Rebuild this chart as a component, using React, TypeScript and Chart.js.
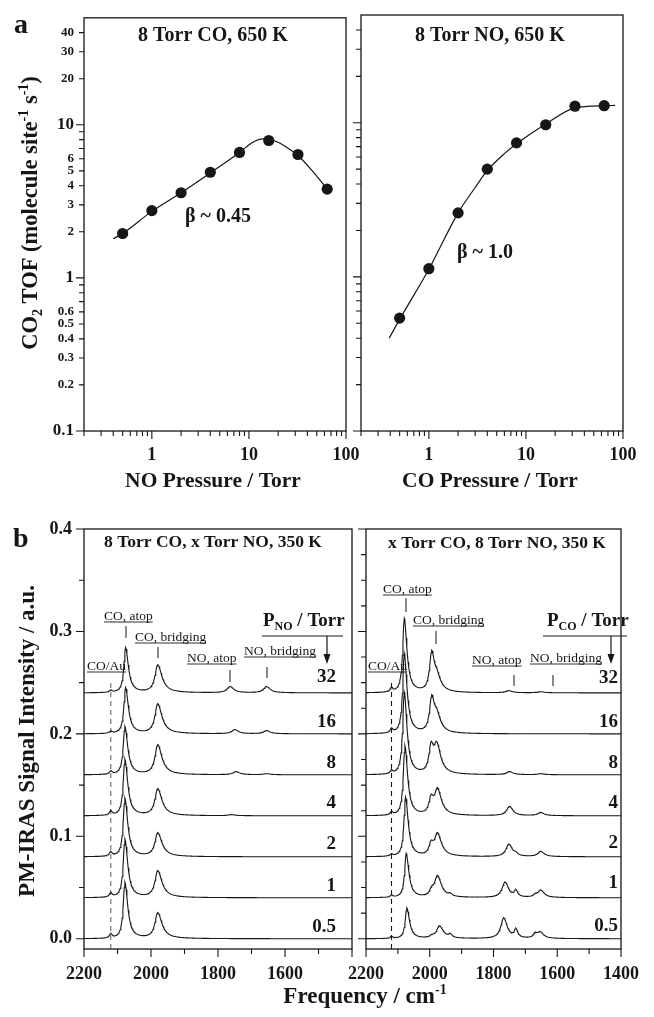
import React, { useEffect, useRef } from 'react';
import { Chart, registerables } from 'chart.js';

Chart.register(...registerables);

const W = 654;
const H = 1017;
const INK = '#161616';
const SERIF = '"Liberation Serif", "Times New Roman", Times, serif';

// ===================== Panel a : CO2 TOF vs partial pressure =====================
const NO_PRESSURE_TORR = [0.5, 1, 2, 4, 8, 16, 32, 64];
const TOF_VS_NO = [1.95, 2.75, 3.6, 4.9, 6.6, 7.9, 6.4, 3.8];
const FIT_NO_X = [0.4, 0.5, 1, 2, 4, 8, 11, 14, 18, 24, 32, 45, 64];
const FIT_NO_Y = [1.8, 1.95, 2.72, 3.6, 4.85, 6.6, 7.7, 8.1, 7.9, 7.2, 6.3, 5.0, 3.8];

const CO_PRESSURE_TORR = [0.5, 1, 2, 4, 8, 16, 32, 64];
const TOF_VS_CO = [0.54, 1.13, 2.6, 5.0, 7.4, 9.7, 12.8, 12.9];
const FIT_CO_X = [0.39, 0.5, 1, 2, 3, 4, 6, 8, 16, 32, 64, 83];
const FIT_CO_Y = [0.4, 0.53, 1.12, 2.6, 3.8, 4.9, 6.3, 7.3, 9.8, 12.5, 12.9, 12.95];

const TOF_TICKS = [0.1, 0.2, 0.3, 0.4, 0.5, 0.6, 0.7, 0.8, 0.9, 1, 2, 3, 4, 5, 6, 7, 8, 9, 10, 20, 30, 40];
const TOF_TICK_LABELS = ['0.1', '0.2', '0.3', '0.4', '0.5', '0.6', '', '', '', '1', '2', '3', '4', '5', '6', '', '', '', '10', '20', '30', '40'];
const PRESSURE_TICKS = [0.2, 0.3, 0.4, 0.5, 0.6, 0.7, 0.8, 0.9, 1, 2, 3, 4, 5, 6, 7, 8, 9, 10, 20, 30, 40, 50, 60, 70, 80, 90, 100];
const PRESSURE_TICK_LABELS = ['', '', '', '', '', '', '', '', '1', '', '', '', '', '', '', '', '', '10', '', '', '', '', '', '', '', '', '100'];

// ===================== Panel b : PM-IRAS spectra =====================
const TRACE_LABELS = ['0.5', '1', '2', '4', '8', '16', '32'];
const TRACE_OFFSETS = [0, 0.04, 0.08, 0.12, 0.16, 0.2, 0.24];
const FREQ_MAJOR = [2200, 2000, 1800, 1600, 1400];
const FREQ_MINOR = [2100, 1900, 1700, 1500];
const FREQ_LABELS_LEFT = ['2200', '2000', '1800', '1600', ''];
const FREQ_LABELS_RIGHT = ['2200', '2000', '1800', '1600', '1400'];
const SIGNAL_MAJOR = [0, 0.1, 0.2, 0.3, 0.4];
const SIGNAL_LABELS = ['0.0', '0.1', '0.2', '0.3', '0.4'];
const SIGNAL_MINOR_LEFT = [0.05, 0.15, 0.25, 0.35];
const SIGNAL_MINOR_RIGHT = [0.025, 0.05, 0.075, 0.125, 0.15, 0.175, 0.225, 0.25, 0.275, 0.325, 0.35, 0.375];
const CO_AU_FREQ = 2120;
const CO_AU_LINE_TOP = 0.253;

// Peak table, left spectra (8 Torr CO, x Torr NO), traces 0.5 ... 32 Torr
const L_COAU_H = [0.004, 0.004, 0.004, 0.004, 0.003, 0.002, 0.002];
const L_ATOP_POS = [2078, 2078, 2078, 2078, 2078, 2076, 2076];
const L_ATOP_H = [0.055, 0.057, 0.057, 0.055, 0.047, 0.045, 0.044];
const L_BRIDGE_POS = [1980, 1980, 1980, 1980, 1980, 1980, 1980];
const L_BRIDGE_H = [0.025, 0.026, 0.023, 0.026, 0.029, 0.029, 0.027];
const L_NOATOP_POS = [1760, 1760, 1760, 1760, 1746, 1750, 1764];
const L_NOATOP_H = [0, 0, 0, 0.001, 0.003, 0.004, 0.006];
const L_NOBR_POS = [1655, 1655, 1655, 1655, 1655, 1655, 1655];
const L_NOBR_H = [0, 0, 0, 0, 0.001, 0.003, 0.006];

// Peak table, right spectra (x Torr CO, 8 Torr NO), traces 0.5 ... 32 Torr
const R_COAU_H = [0.002, 0.002, 0.002, 0.003, 0.003, 0.004, 0.004];
const R_ATOP_POS = [2072, 2074, 2076, 2078, 2080, 2080, 2080];
const R_ATOP_H = [0.03, 0.043, 0.058, 0.068, 0.08, 0.078, 0.072];
const R_BRA_POS = [1994, 1994, 1996, 1996, 1996, 1994, 1994];
const R_BRA_H = [0.002, 0.006, 0.011, 0.015, 0.025, 0.033, 0.037];
const R_BRB_POS = [1970, 1976, 1976, 1976, 1978, 1978, 1978];
const R_BRB_H = [0.012, 0.02, 0.021, 0.024, 0.026, 0.015, 0.013];
const R_LOW_POS = [1936, 1936, 1936, 1936, 1936, 1936, 1936];
const R_LOW_H = [0.003, 0.002, 0, 0, 0, 0, 0];
const R_NOATOP_POS = [1768, 1764, 1752, 1750, 1750, 1750, 1752];
const R_NOATOP_H = [0.02, 0.015, 0.012, 0.009, 0.003, 0, 0.002];
const R_NOSH_POS = [1730, 1730, 1730, 1730, 1730, 1730, 1730];
const R_NOSH_H = [0.008, 0.006, 0.002, 0, 0, 0, 0];
const R_NOBR_POS = [1654, 1652, 1652, 1652, 1652, 1652, 1652];
const R_NOBR_H = [0.006, 0.007, 0.005, 0.003, 0.001, 0, 0.001];
const R_NOBR2_POS = [1670, 1670, 1670, 1670, 1670, 1670, 1670];
const R_NOBR2_H = [0.004, 0.002, 0, 0, 0, 0, 0];

// half widths [high-frequency side, low-frequency side] in cm-1
const HW_COAU: [number, number] = [5, 5];
const HW_ATOP: [number, number] = [6, 10];
const HW_BRIDGE: [number, number] = [10, 15];
const HW_BRA: [number, number] = [8, 10];
const HW_NO: [number, number] = [11, 13];
const HW_NARROW: [number, number] = [6, 7];

type Comp = { pos: number[]; h: number[]; hw: [number, number] };
const CO_AU_POS = TRACE_LABELS.map(() => CO_AU_FREQ);

const LEFT_COMPONENTS: Comp[] = [
  { pos: CO_AU_POS, h: L_COAU_H, hw: HW_COAU },
  { pos: L_ATOP_POS, h: L_ATOP_H, hw: HW_ATOP },
  { pos: L_BRIDGE_POS, h: L_BRIDGE_H, hw: HW_BRIDGE },
  { pos: L_NOATOP_POS, h: L_NOATOP_H, hw: HW_NO },
  { pos: L_NOBR_POS, h: L_NOBR_H, hw: HW_NO },
];
const RIGHT_COMPONENTS: Comp[] = [
  { pos: CO_AU_POS, h: R_COAU_H, hw: HW_COAU },
  { pos: R_ATOP_POS, h: R_ATOP_H, hw: HW_ATOP },
  { pos: R_BRA_POS, h: R_BRA_H, hw: HW_BRA },
  { pos: R_BRB_POS, h: R_BRB_H, hw: HW_BRIDGE },
  { pos: R_LOW_POS, h: R_LOW_H, hw: HW_NARROW },
  { pos: R_NOATOP_POS, h: R_NOATOP_H, hw: HW_NO },
  { pos: R_NOSH_POS, h: R_NOSH_H, hw: HW_NARROW },
  { pos: R_NOBR_POS, h: R_NOBR_H, hw: HW_NO },
  { pos: R_NOBR2_POS, h: R_NOBR2_H, hw: HW_NARROW },
];

const FREQ_GRID: number[] = [];
for (let f = 2200; f >= 1400; f -= 2) FREQ_GRID.push(f);

function peak(f: number, c: number, h: number, hw: [number, number]) {
  if (!h) return 0;
  const w = f >= c ? hw[0] : hw[1];
  const d = f - c;
  return (h * w * w) / (d * d + w * w);
}

function spectrum(comps: Comp[], i: number) {
  return FREQ_GRID.map((f) => ({
    x: f,
    y: TRACE_OFFSETS[i] + comps.reduce((s, c) => s + peak(f, c.pos[i], c.h[i], c.hw), 0),
  }));
}

// ===================== drawing helpers =====================
type Seg = [string, number, number?, boolean?];

function drawRich(ctx: CanvasRenderingContext2D, segs: Seg[], x: number, y: number, align: 'left' | 'center' | 'right' = 'left', bold = true) {
  const fontOf = (s: Seg) => `${(s[3] ?? bold) ? 'bold ' : ''}${s[1]}px ${SERIF}`;
  let total = 0;
  const ws = segs.map((s) => {
    ctx.font = fontOf(s);
    const w = ctx.measureText(s[0]).width;
    total += w;
    return w;
  });
  let cx = align === 'left' ? x : align === 'center' ? x - total / 2 : x - total;
  const start = cx;
  ctx.textAlign = 'left';
  ctx.textBaseline = 'alphabetic';
  ctx.fillStyle = INK;
  segs.forEach((s, i) => {
    ctx.font = fontOf(s);
    ctx.fillText(s[0], cx, y + (s[2] ?? 0));
    cx += ws[i];
  });
  return { start, width: total };
}

function tag(ctx: CanvasRenderingContext2D, text: string, x: number, y: number) {
  const r = drawRich(ctx, [[text, 13.5]], x, y, 'left', false);
  ctx.strokeStyle = INK;
  ctx.lineWidth = 0.9;
  ctx.beginPath();
  ctx.moveTo(r.start, y + 2);
  ctx.lineTo(r.start + r.width, y + 2);
  ctx.stroke();
}

function vline(ctx: CanvasRenderingContext2D, x: number, y1: number, y2: number, lw = 1) {
  ctx.strokeStyle = INK;
  ctx.lineWidth = lw;
  ctx.beginPath();
  ctx.moveTo(x, y1);
  ctx.lineTo(x, y2);
  ctx.stroke();
}

function hline(ctx: CanvasRenderingContext2D, x1: number, x2: number, y: number, lw = 1.2) {
  ctx.strokeStyle = INK;
  ctx.lineWidth = lw;
  ctx.beginPath();
  ctx.moveTo(x1, y);
  ctx.lineTo(x2, y);
  ctx.stroke();
}

function arrow(ctx: CanvasRenderingContext2D, x: number, y1: number, y2: number) {
  vline(ctx, x, y1, y2 - 6, 1.2);
  ctx.fillStyle = INK;
  ctx.beginPath();
  ctx.moveTo(x, y2);
  ctx.lineTo(x - 3.5, y2 - 10);
  ctx.lineTo(x + 3.5, y2 - 10);
  ctx.closePath();
  ctx.fill();
}

function rotated(ctx: CanvasRenderingContext2D, x: number, y: number, segs: Seg[]) {
  ctx.save();
  ctx.translate(x, y);
  ctx.rotate(-Math.PI / 2);
  drawRich(ctx, segs, 0, 0, 'center');
  ctx.restore();
}

type TickSpec = { xMajor: number[]; xMinor: number[]; yMajor: number[]; yMinor: number[] };

function framePlugin(spec: TickSpec, overlay: (ctx: CanvasRenderingContext2D) => void) {
  return {
    id: 'frameAndText',
    afterDraw(chart: any) {
      const { ctx, chartArea: a, scales } = chart;
      ctx.save();
      ctx.strokeStyle = INK;
      ctx.lineWidth = 1.3;
      ctx.strokeRect(a.left, a.top, a.right - a.left, a.bottom - a.top);
      ctx.lineWidth = 1.1;
      ctx.beginPath();
      const tx = (v: number, len: number) => {
        const p = scales.x.getPixelForValue(v);
        ctx.moveTo(p, a.bottom);
        ctx.lineTo(p, a.bottom + len);
      };
      const ty = (v: number, len: number) => {
        const p = scales.y.getPixelForValue(v);
        ctx.moveTo(a.left, p);
        ctx.lineTo(a.left - len, p);
      };
      spec.xMajor.forEach((v) => tx(v, 8));
      spec.xMinor.forEach((v) => tx(v, 5));
      spec.yMajor.forEach((v) => ty(v, 8));
      spec.yMinor.forEach((v) => ty(v, 5));
      ctx.stroke();
      ctx.restore();
      ctx.save();
      overlay(ctx);
      ctx.restore();
    },
  };
}

const isDecade = (v: number) => Math.abs(Math.log10(v) - Math.round(Math.log10(v))) < 1e-6;
const labelFor = (ticks: number[], labels: string[]) => (v: any) => {
  const i = ticks.findIndex((t) => Math.abs(t - Number(v)) < 1e-7);
  return i >= 0 ? labels[i] : '';
};
const setTicks = (vals: number[]) => (scale: any) => {
  scale.ticks = vals.map((v) => ({ value: v }));
};

type Box = { left: number; top: number; right: number; bottom: number };
const Y_AXIS_W = 70;
const X_AXIS_H = 40;
const padFor = (b: Box) => ({ left: b.left - Y_AXIS_W, top: b.top, right: W - b.right, bottom: H - b.bottom - X_AXIS_H });

const BOX_TL: Box = { left: 84, top: 15, right: 346, bottom: 431 };
const BOX_TR: Box = { left: 361, top: 15, right: 623, bottom: 431 };
const BOX_BL: Box = { left: 84, top: 529, right: 352, bottom: 949 };
const BOX_BR: Box = { left: 366, top: 529, right: 633, bottom: 949 };

function baseOptions(box: Box) {
  return {
    responsive: false,
    maintainAspectRatio: false,
    animation: false as const,
    devicePixelRatio: 1,
    layout: { padding: padFor(box) },
    plugins: { legend: { display: false }, tooltip: { enabled: false } },
    events: [] as any[],
  };
}

function rateConfig(box: Box, px: number[], py: number[], fx: number[], fy: number[], showYLabels: boolean, overlay: (c: CanvasRenderingContext2D) => void) {
  return {
    type: 'line',
    data: {
      datasets: [
        {
          data: px.map((x, i) => ({ x, y: py[i] })),
          showLine: false,
          pointRadius: 5.6,
          pointBackgroundColor: INK,
          pointBorderWidth: 0,
        },
        {
          data: fx.map((x, i) => ({ x, y: fy[i] })),
          borderColor: INK,
          borderWidth: 1.2,
          pointRadius: 0,
          cubicInterpolationMode: 'monotone',
          fill: false,
        },
      ],
    },
    options: {
      ...baseOptions(box),
      scales: {
        x: {
          type: 'logarithmic',
          min: 0.2,
          max: 100,
          bounds: 'data',
          grid: { display: false, drawTicks: false },
          border: { display: false },
          afterBuildTicks: setTicks(PRESSURE_TICKS),
          afterFit: (s: any) => { s.height = X_AXIS_H; },
          ticks: {
            autoSkip: false, maxRotation: 0, minRotation: 0, padding: 14, color: INK,
            font: { family: SERIF, size: 18, weight: 'bold' },
            callback: labelFor(PRESSURE_TICKS, PRESSURE_TICK_LABELS),
          },
        },
        y: {
          type: 'logarithmic',
          min: 0.1,
          max: 50,
          bounds: 'data',
          grid: { display: false, drawTicks: false },
          border: { display: false },
          afterBuildTicks: setTicks(TOF_TICKS),
          afterFit: (s: any) => { s.width = Y_AXIS_W; },
          ticks: {
            display: showYLabels,
            autoSkip: false, padding: 10, color: INK,
            font: (c: any) => ({ family: SERIF, weight: 'bold', size: isDecade(c.tick ? c.tick.value : 1) ? 17 : 13 }),
            callback: labelFor(TOF_TICKS, TOF_TICK_LABELS),
          },
        },
      },
    },
    plugins: [
      framePlugin(
        {
          xMajor: [1, 10, 100],
          xMinor: PRESSURE_TICKS.filter((v) => !isDecade(v)),
          yMajor: [0.1, 1, 10],
          yMinor: TOF_TICKS.filter((v) => !isDecade(v)),
        },
        overlay,
      ),
    ],
  };
}

function spectraConfig(box: Box, comps: Comp[], freqLabels: string[], yMinor: number[], showYLabels: boolean, dashColor: string, overlay: (c: CanvasRenderingContext2D) => void) {
  const traces = TRACE_LABELS.map((_, i) => ({
    data: spectrum(comps, i),
    borderColor: INK,
    borderWidth: 1.1,
    pointRadius: 0,
    tension: 0,
    fill: false,
  }));
  return {
    type: 'line',
    data: {
      datasets: [
        ...traces,
        {
          data: [{ x: CO_AU_FREQ, y: -0.01 }, { x: CO_AU_FREQ, y: CO_AU_LINE_TOP }],
          borderColor: dashColor,
          borderWidth: 1.1,
          borderDash: [5, 4],
          pointRadius: 0,
          fill: false,
        },
      ],
    },
    options: {
      ...baseOptions(box),
      scales: {
        x: {
          type: 'linear',
          min: 1400,
          max: 2200,
          reverse: true,
          bounds: 'data',
          grid: { display: false, drawTicks: false },
          border: { display: false },
          afterBuildTicks: setTicks(FREQ_MAJOR),
          afterFit: (s: any) => { s.height = X_AXIS_H; },
          ticks: {
            autoSkip: false, maxRotation: 0, minRotation: 0, padding: 15, color: INK,
            font: { family: SERIF, size: 18, weight: 'bold' },
            callback: labelFor(FREQ_MAJOR, freqLabels),
          },
        },
        y: {
          type: 'linear',
          min: -0.01,
          max: 0.4,
          bounds: 'data',
          grid: { display: false, drawTicks: false },
          border: { display: false },
          afterBuildTicks: setTicks(SIGNAL_MAJOR),
          afterFit: (s: any) => { s.width = Y_AXIS_W; },
          ticks: {
            display: showYLabels,
            autoSkip: false, padding: 12, color: INK,
            font: { family: SERIF, size: 18, weight: 'bold' },
            callback: labelFor(SIGNAL_MAJOR, SIGNAL_LABELS),
          },
        },
      },
    },
    plugins: [
      framePlugin({ xMajor: FREQ_MAJOR, xMinor: FREQ_MINOR, yMajor: SIGNAL_MAJOR, yMinor }, overlay),
    ],
  };
}

// ===================== text overlays =====================
function overlayTL(ctx: CanvasRenderingContext2D) {
  drawRich(ctx, [['a', 28]], 14, 33);
  rotated(ctx, 37, 213, [
    ['CO', 22.5], ['2', 14, 5], [' TOF (molecule site', 22.5], ['-1', 14, -9], [' s', 22.5], ['-1', 14, -9], [')', 22.5],
  ]);
  drawRich(ctx, [['8 Torr CO, 650 K', 20]], 213, 41, 'center');
  drawRich(ctx, [['β ~ 0.45', 20]], 218, 222, 'center');
  drawRich(ctx, [['NO Pressure / Torr', 21.5]], 213, 487, 'center');
}

function overlayTR(ctx: CanvasRenderingContext2D) {
  drawRich(ctx, [['8 Torr NO, 650 K', 20]], 490, 41, 'center');
  drawRich(ctx, [['β ~ 1.0', 20]], 485, 258, 'center');
  drawRich(ctx, [['CO Pressure / Torr', 21.5]], 490, 487, 'center');
}

const LEFT_LABEL_BASELINES = [932, 891, 849, 808, 768, 727, 682];
const RIGHT_LABEL_BASELINES = [931, 888, 848, 808, 768, 727, 683];

function overlayBL(ctx: CanvasRenderingContext2D) {
  drawRich(ctx, [['b', 28]], 13, 547);
  rotated(ctx, 34, 741, [['PM-IRAS Signal Intensity / a.u.', 23]]);
  drawRich(ctx, [['Frequency / cm', 23], ['-1', 14, -9]], 365, 1003, 'center');
  drawRich(ctx, [['8 Torr CO, x Torr NO, 350 K', 17.5]], 213, 547, 'center');
  tag(ctx, 'CO/Au', 87, 670);
  tag(ctx, 'CO, atop', 104, 620);
  tag(ctx, 'CO, bridging', 135, 641);
  tag(ctx, 'NO, atop', 187, 662);
  tag(ctx, 'NO, bridging', 244, 655);
  vline(ctx, 126, 626, 638);
  vline(ctx, 158, 647, 658);
  vline(ctx, 230, 670, 682);
  vline(ctx, 267, 667, 678);
  drawRich(ctx, [['P', 19], ['NO', 12, 4], [' / Torr', 19]], 263, 626);
  hline(ctx, 262, 343, 636);
  arrow(ctx, 327, 636, 664);
  TRACE_LABELS.forEach((t, i) => drawRich(ctx, [[t, 19]], 336, LEFT_LABEL_BASELINES[i], 'right'));
}

function overlayBR(ctx: CanvasRenderingContext2D) {
  drawRich(ctx, [['x Torr CO, 8 Torr NO, 350 K', 17.5]], 497, 548, 'center');
  tag(ctx, 'CO/Au', 368, 670);
  tag(ctx, 'CO, atop', 383, 593);
  tag(ctx, 'CO, bridging', 413, 624);
  tag(ctx, 'NO, atop', 472, 664);
  tag(ctx, 'NO, bridging', 530, 662);
  vline(ctx, 406, 598, 612);
  vline(ctx, 436, 631, 644);
  vline(ctx, 514, 675, 686);
  vline(ctx, 553, 675, 686);
  drawRich(ctx, [['P', 19], ['CO', 12, 4], [' / Torr', 19]], 547, 626);
  hline(ctx, 543, 627, 636);
  arrow(ctx, 611, 636, 664);
  TRACE_LABELS.forEach((t, i) => drawRich(ctx, [[t, 19]], 618, RIGHT_LABEL_BASELINES[i], 'right'));
}

// ===================== components =====================
function ChartLayer({ make }: { make: () => any }) {
  const ref = useRef<HTMLCanvasElement>(null);
  useEffect(() => {
    const chart = new Chart(ref.current as HTMLCanvasElement, make());
    return () => chart.destroy();
  }, []);
  return (
    <canvas
      ref={ref}
      width={W}
      height={H}
      style={{ position: 'absolute', left: 0, top: 0, width: W, height: H }}
    />
  );
}

export default function App() {
  return (
    <div style={{ position: 'absolute', left: 0, top: 0, width: W, height: H, background: '#fff', overflow: 'hidden' }}>
      <ChartLayer make={() => rateConfig(BOX_TL, NO_PRESSURE_TORR, TOF_VS_NO, FIT_NO_X, FIT_NO_Y, true, overlayTL)} />
      <ChartLayer make={() => rateConfig(BOX_TR, CO_PRESSURE_TORR, TOF_VS_CO, FIT_CO_X, FIT_CO_Y, false, overlayTR)} />
      <ChartLayer make={() => spectraConfig(BOX_BL, LEFT_COMPONENTS, FREQ_LABELS_LEFT, SIGNAL_MINOR_LEFT, true, '#6a6a6a', overlayBL)} />
      <ChartLayer make={() => spectraConfig(BOX_BR, RIGHT_COMPONENTS, FREQ_LABELS_RIGHT, SIGNAL_MINOR_RIGHT, false, INK, overlayBR)} />
    </div>
  );
}
